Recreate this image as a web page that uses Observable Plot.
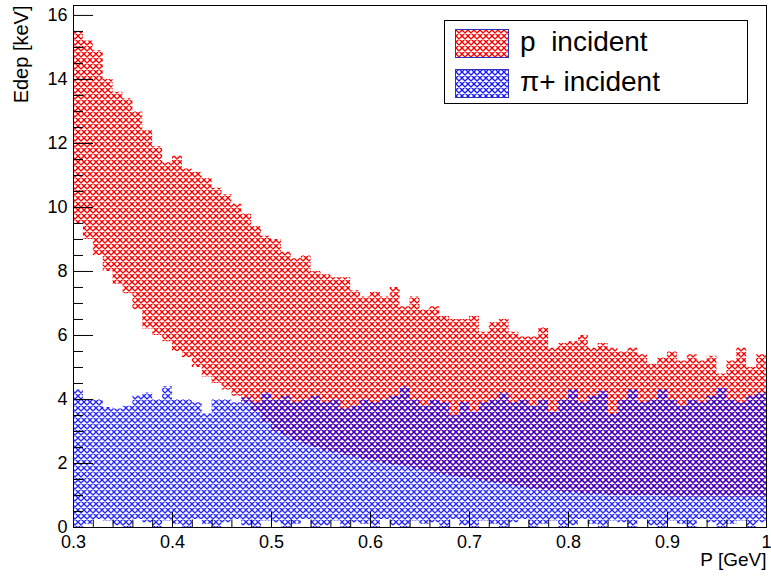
<!DOCTYPE html>
<html>
<head>
<meta charset="utf-8">
<script src="https://cdn.jsdelivr.net/npm/d3@7"></script>
<script src="https://cdn.jsdelivr.net/npm/@observablehq/plot@0.6"></script>
<style>
  body { margin: 0; background: #fff; }
  #chart { width: 771px; height: 578px; }
</style>
</head>
<body>
<div id="chart"></div>
<script>
// Momentum bins (left edges, GeV); last entry closes the final step
const pBins = [0.30,0.31,0.32,0.33,0.34,0.35,0.36,0.37,0.38,0.39,
               0.40,0.41,0.42,0.43,0.44,0.45,0.46,0.47,0.48,0.49,
               0.50,0.51,0.52,0.53,0.54,0.55,0.56,0.57,0.58,0.59,
               0.60,0.61,0.62,0.63,0.64,0.65,0.66,0.67,0.68,0.69,
               0.70,0.71,0.72,0.73,0.74,0.75,0.76,0.77,0.78,0.79,
               0.80,0.81,0.82,0.83,0.84,0.85,0.86,0.87,0.88,0.89,
               0.90,0.91,0.92,0.93,0.94,0.95,0.96,0.97,0.98,0.99,1.00];

// p incident: upper and lower edge of the Edep band (keV)
const protonTop = [15.5,15.2,14.9,14.0,13.6,13.4,13.0,12.4,11.9,11.4,
                   11.6,11.2,11.1,10.9,10.6,10.4,10.1,9.8,9.4,9.1,
                   9.0,8.6,8.4,8.5,8.0,7.9,7.8,7.8,7.4,7.2,
                   7.35,7.2,7.5,6.9,7.2,6.8,6.9,6.6,6.5,6.5,
                   6.6,6.1,6.4,6.5,6.1,5.95,5.95,6.25,5.6,5.75,
                   5.8,6.0,5.6,5.75,5.6,5.5,5.6,5.4,5.1,5.3,
                   5.5,5.2,5.4,5.2,5.35,4.8,5.2,5.6,5.0,5.4,5.4];
const protonBottom = [9.5,9.0,8.5,8.0,7.6,7.3,6.8,6.2,6.0,5.8,
                      5.5,5.3,5.0,4.7,4.5,4.3,4.1,3.9,3.6,3.3,
                      3.0,2.85,2.7,2.6,2.5,2.4,2.35,2.25,2.2,2.1,
                      2.05,2.0,1.95,1.9,1.85,1.8,1.7,1.65,1.6,1.55,
                      1.5,1.45,1.4,1.35,1.3,1.25,1.2,1.15,1.15,1.1,
                      1.1,1.05,1.05,1.05,1.0,1.0,1.0,1.0,1.0,1.0,
                      0.95,0.95,0.95,0.95,0.95,0.95,0.95,0.95,0.95,0.95,0.95];

// pi+ incident: upper and lower edge of the Edep band (keV)
const pionTop = [4.3,4.0,4.0,3.75,3.7,3.8,4.1,4.2,4.0,4.4,
                 4.0,4.0,3.9,3.55,4.0,4.0,3.9,4.05,3.9,4.2,
                 4.0,4.1,3.9,4.0,4.1,3.9,4.0,3.7,3.8,4.0,
                 3.9,4.0,4.1,4.4,4.0,3.8,4.0,3.9,3.5,3.9,
                 3.6,3.9,4.0,4.2,3.9,4.0,3.8,4.0,3.6,4.0,
                 4.3,3.9,4.1,4.25,3.55,4.0,4.3,3.9,4.0,4.3,
                 4.0,3.8,4.0,3.9,4.1,4.35,4.0,3.9,4.1,4.2,4.2];
const pionBottom = [0,0.1,0.25,0.2,0.05,0,0.25,0.15,0,0.2,
                    0.1,0,0.25,0.1,0,0.15,0.25,0.05,0,0.2,
                    0.15,0,0.1,0.25,0,0.05,0.2,0,0.15,0.1,
                    0,0.25,0.05,0,0.2,0.1,0.15,0,0.25,0.05,
                    0,0.2,0.1,0,0.15,0.25,0,0.1,0.2,0,
                    0.05,0.25,0.1,0,0.2,0.15,0,0.25,0.05,0,
                    0.2,0.1,0,0.25,0.15,0,0.1,0.2,0,0.15,0.15];

// Axis ticks and labels
const xMajor = [0.3,0.4,0.5,0.6,0.7,0.8,0.9,1.0];
const xTickLabels = ["0.3","0.4","0.5","0.6","0.7","0.8","0.9","1"];
const xMinor = [0.32,0.34,0.36,0.38,0.42,0.44,0.46,0.48,0.52,0.54,0.56,0.58,
                0.62,0.64,0.66,0.68,0.72,0.74,0.76,0.78,0.82,0.84,0.86,0.88,
                0.92,0.94,0.96,0.98];
const yMajor = [0,2,4,6,8,10,12,14,16];
const yMinor = [0.5,1,1.5,2.5,3,3.5,4.5,5,5.5,6.5,7,7.5,8.5,9,9.5,10.5,11,11.5,
                12.5,13,13.5,14.5,15,15.5];
const xTitle = "P [GeV]";
const yTitle = "Edep [keV]";
const seriesNames = ["p  incident", "π+ incident"];

const W = 771, H = 578, mL = 73, mR = 5, mT = 5, mB = 51;
const frameW = W - mL - mR, frameH = H - mT - mB;

const proton = pBins.map((x, i) => ({x, lo: protonBottom[i], hi: protonTop[i]}));
const pion = pBins.map((x, i) => ({x, lo: pionBottom[i], hi: pionTop[i]}));

const chart = Plot.plot({
  width: W, height: H,
  marginLeft: mL, marginRight: mR, marginTop: mT, marginBottom: mB,
  style: {fontFamily: "'Liberation Sans', Arial, sans-serif", fontSize: "18px", background: "#fff", color: "#000", overflow: "visible"},
  x: {domain: [0.3, 1.0], label: null},
  y: {domain: [0, 16.31], label: null},
  marks: [
    Plot.areaY(proton, {x: "x", y1: "lo", y2: "hi", curve: "step-after", fill: "url(#hatchRed)"}),
    Plot.areaY(pion, {x: "x", y1: "lo", y2: "hi", curve: "step-after", fill: "url(#hatchBlue)", fillOpacity: 0.85}),
    Plot.tickX(xMinor, {x: d => d, insetTop: frameH - 7.5, stroke: "#000"}),
    Plot.tickX(xMajor, {x: d => d, insetTop: frameH - 15, stroke: "#000"}),
    Plot.tickY(yMinor, {y: d => d, insetRight: frameW - 10, stroke: "#000"}),
    Plot.tickY(yMajor, {y: d => d, insetRight: frameW - 20, stroke: "#000"}),
    Plot.axisX({ticks: xMajor, tickSize: 0, tickPadding: 8, fontSize: 18,
                tickFormat: d => xTickLabels[xMajor.indexOf(d)], label: null}),
    Plot.axisY({ticks: yMajor, tickSize: 0, tickPadding: 6, fontSize: 18, label: null}),
    Plot.frame({stroke: "#000"}),
    Plot.text([yTitle], {frameAnchor: "top-left", dx: -60, rotate: -90, textAnchor: "end", fontSize: 20}),
    Plot.text([xTitle], {frameAnchor: "bottom-right", dy: 38, textAnchor: "end", fontSize: 19})
  ]
});

document.getElementById("chart").appendChild(chart);

// hatch patterns (ROOT-style cross hatch)
const svg = d3.select(chart);
const defs = svg.insert("defs", ":first-child");
function hatch(id, color) {
  const p = defs.append("pattern")
    .attr("id", id).attr("patternUnits", "userSpaceOnUse")
    .attr("width", 6).attr("height", 6);
  p.append("path")
    .attr("d", "M0,0L6,6M6,0L0,6M-1,1L1,-1M5,7L7,5M-1,5L1,7M5,-1L7,1")
    .attr("stroke", color).attr("stroke-width", 1.35).attr("fill", "none");
}
hatch("hatchRed", "#ff0000");
hatch("hatchBlue", "#0000ff");

// legend box
const lg = svg.append("g").attr("text-anchor", "start");
lg.append("rect").attr("x", 444.5).attr("y", 20.5).attr("width", 303).attr("height", 83)
  .attr("fill", "#fff").attr("stroke", "#000").attr("stroke-width", 1);
const swatchFill = ["url(#hatchRed)", "url(#hatchBlue)"];
const rowY = [29, 69];
const baseY = [51, 91];
seriesNames.forEach((name, i) => {
  lg.append("rect").attr("x", 455.5).attr("y", rowY[i] + 0.5).attr("width", 53).attr("height", 28)
    .attr("fill", swatchFill[i]).attr("fill-opacity", i === 1 ? 0.9 : 1)
    .attr("stroke", "#3030c0").attr("stroke-width", 1);
  lg.append("text").attr("x", 520).attr("y", baseY[i])
    .attr("text-anchor", "start")
    .style("white-space", "pre").attr("font-size", 28)
    .attr("font-family", "'Liberation Sans', Arial, sans-serif")
    .attr("fill", "#000").text(name);
});
</script>
</body>
</html>
